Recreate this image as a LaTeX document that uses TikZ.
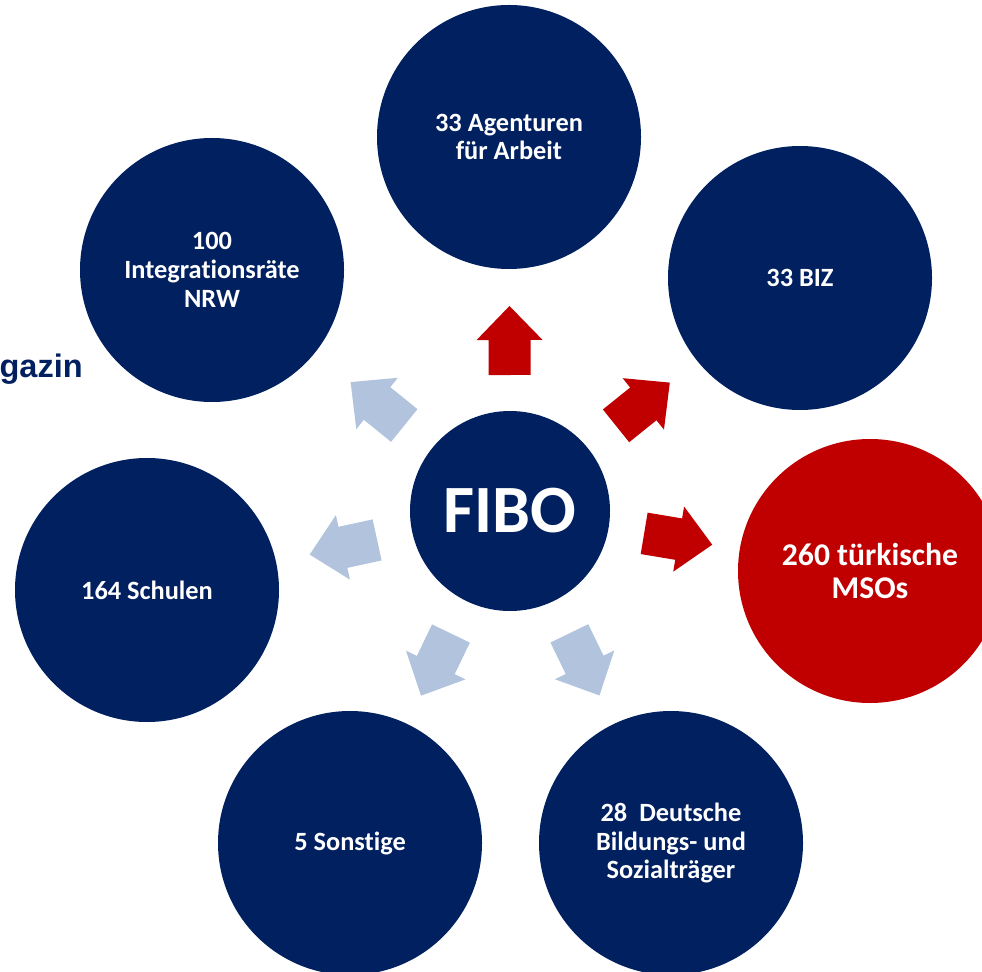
\documentclass[tikz,border=0pt]{standalone}
\usepackage{fontspec}
\setmainfont{Carlito}[Ligatures=NoCommon]
\newfontfamily\arialfont{Liberation Sans}
\usetikzlibrary{positioning}

\definecolor{fibonavy}{RGB}{0,32,96}
\definecolor{fibored}{RGB}{192,0,0}
\definecolor{arrowblue}{RGB}{178,195,222}

\begin{document}
\begin{tikzpicture}[
  sat/.style={circle, fill=fibonavy, minimum size=5.28cm, inner sep=0pt,
    text=white, align=center, font=\fontsize{15}{16.4}\selectfont\bfseries},
  satred/.style={sat, fill=fibored, font=\fontsize{18}{19.3}\selectfont\bfseries}
]

\useasboundingbox (0,0) rectangle (19.64,-19.44);
\clip (0,0) rectangle (19.64,-19.44);
\fill [white] (0,0) rectangle (19.64,-19.44);

% left-over title text
\node [anchor=base east, inner sep=0pt, text=fibonavy,
  font=\arialfont\fontsize{18.5}{20}\selectfont\bfseries] (title) at (1.66,-7.56) {gazin};

% centre
\node [circle, fill=fibonavy, minimum size=4cm, inner sep=0pt, text=white,
  font=\fontsize{38.5}{40}\selectfont\bfseries] (fibo) at (10.2,-10.22) {FIBO};

% partners
\node [sat] (arbeit) at (10.18,-2.74) {33 Agenturen\\für Arbeit};
\node [sat] (biz) at (16.0,-5.56) {33 BIZ};
\node [satred] (mso) at (17.4,-11.42) {260 türkische\\MSOs};
\node [sat] (deutsche) at (13.42,-16.86) {28\ \ Deutsche\\Bildungs- und\\Sozialträger};
\node [sat] (sonstige) at (7.0,-16.86) {5 Sonstige};
\node [sat] (schulen) at (2.94,-11.8) {164 Schulen};
\node [sat] (integration) at (4.24,-5.4) {100\\Integrationsräte\\NRW};

% block arrows from the centre
\foreach \t/\c in {arbeit/fibored, biz/fibored, mso/fibored,
  integration/arrowblue, schulen/arrowblue, sonstige/arrowblue, deutsche/arrowblue}
{
  \pgfmathanglebetweenpoints{\pgfpointanchor{fibo}{center}}{\pgfpointanchor{\t}{center}}
  \let\ang\pgfmathresult
  \fill [\c, shift={(fibo.center)}, rotate=\ang]
    (2.72,0.42) -- (3.42,0.42) -- (3.42,0.66) -- (4.1,0)
    -- (3.42,-0.66) -- (3.42,-0.42) -- (2.72,-0.42) -- cycle;
}
\end{tikzpicture}
\end{document}
